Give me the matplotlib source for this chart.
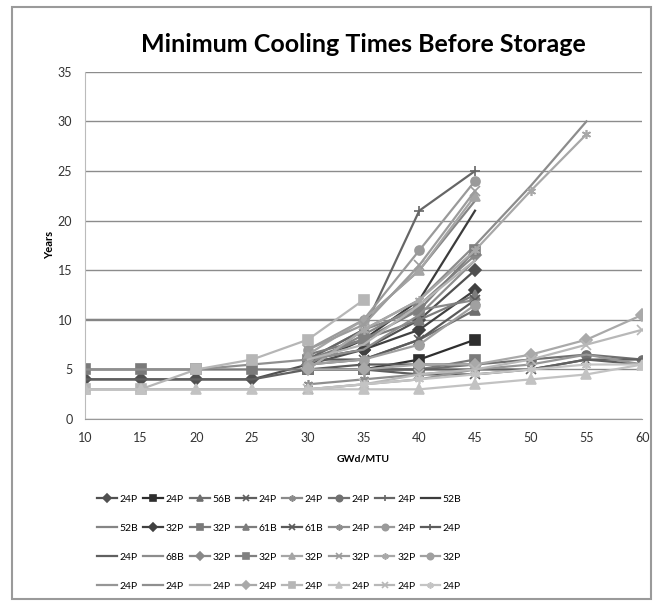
import numpy as np
import matplotlib.pyplot as plt
from matplotlib.patches import Rectangle

plt.rcParams['font.family'] = ['Lato', 'DejaVu Sans']

burnup = [10, 15, 20, 25, 30, 35, 40, 45, 50, 55, 60]

names = ['24P', '24P', '56B', '24P', '24P', '24P', '24P', '52B',
         '52B', '32P', '32P', '61B', '61B', '24P', '24P', '24P',
         '24P', '68B', '32P', '32P', '32P', '32P', '32P', '32P',
         '24P', '24P', '24P', '24P', '24P', '24P', '24P', '24P']

N = None
years = [
    [4, 4, 4, 4, 5.5, 7, 10, 15, N, N, N],
    [N, N, N, N, 5, 5, 6, 8, N, N, N],
    [N, N, N, N, 5.5, 6, 8, 11, N, N, N],
    [N, N, N, N, 5, 5, 4.5, 4.5, 5, 6, 5.5],
    [N, N, N, N, 6, 9, 11, 12, N, N, N],
    [N, N, N, N, 5, 5, 5, 5.5, 6, 6.5, 6],
    [N, N, N, N, 6, 9, 21, 25, N, N, N],
    [N, N, N, N, 5.5, 8, 12, 21, N, N, N],
    [10, 10, 10, 10, 10, 10, 15, 22, N, N, N],
    [N, N, N, N, 6, 7, 9, 13, N, N, N],
    [5, 5, 5, 5, 5, 5, 5, 6, N, N, N],
    [N, N, N, N, 6.5, 8, 10, 12.5, N, N, N],
    [N, N, N, N, 6, 6, 8, 12, N, N, N],
    [N, N, N, N, 3.5, 4, 4.5, 5, N, N, N],
    [N, N, N, N, 7, 10, 17, 24, N, N, N],
    [N, N, N, N, 5, 5.5, 5.5, 5.5, N, N, N],
    [4, 4, 4, 4, 5, 5, 5, 5, 5, 6, 6],
    [N, N, N, N, 5, 9, 12, 17.5, 23.5, 30, N],
    [N, N, N, N, 5.5, 8.5, 11.5, 16.5, N, N, N],
    [N, N, N, N, 6, 8, 11, 17, N, N, N],
    [N, N, N, N, 6.5, 10, 15, 22.5, N, N, N],
    [N, N, N, N, 7, 9.5, 15.5, 23, N, N, N],
    [N, N, N, N, 5, 9, 12, 17, 23, 28.7, N],
    [N, N, N, N, 5.5, 6, 7.5, 11.5, N, N, N],
    [3, 3, 3, 3, 3, 3.5, 4, 5, 5.5, 6.5, 5.5],
    [5, 5, 5, 5.5, 6, 7, 10.5, 16, N, N, N],
    [N, N, N, N, 6, 7.5, 11.5, 16, N, N, N],
    [N, N, N, N, 5, 5, 5.5, 5.5, 6.5, 8, 10.5],
    [3, 3, 5, 6, 8, 12, N, N, N, N, N],
    [3, 3, 3, 3, 3, 3, 3, 3.5, 4, 4.5, 5.5],
    [N, N, N, N, 3, 3.5, 4.5, 5, 6, 7.5, 9],
    [N, N, N, N, 3, 3.5, 4, 4.5, 5, 5.5, 5.5],
]

asterisk = (6, 2, 0)
markers = ['D', 's', '^', 'x', asterisk, 'o', '+', None,
           None, 'D', 's', '^', 'x', asterisk, 'o', '+',
           None, None, 'D', 's', '^', 'x', asterisk, 'o',
           None, None, None, 'D', 's', '^', 'x', asterisk]

grays = ['#505050', '#2e2e2e', '#6e6e6e', '#5e5e5e', '#8a8a8a', '#707070', '#666666', '#3c3c3c',
         '#858585', '#404040', '#7a7a7a', '#7c7c7c', '#5a5a5a', '#8e8e8e', '#9a9a9a', '#5c5c5c',
         '#606060', '#8c8c8c', '#888888', '#808080', '#a5a5a5', '#9c9c9c', '#a8a8a8', '#a0a0a0',
         '#969696', '#8f8f8f', '#b4b4b4', '#a9a9a9', '#b6b6b6', '#c2c2c2', '#b8b8b8', '#c4c4c4']

fig = plt.figure(figsize=(6.58, 6.03), dpi=100)
fig.patches.append(Rectangle((0.018, 0.007), 0.972, 0.981, transform=fig.transFigure,
                             fill=False, edgecolor='#9a9a9a', linewidth=1.5))
ax = fig.add_axes([0.129, 0.305, 0.847, 0.576])

handles = []
for name, vals, m, c in zip(names, years, markers, grays):
    y = np.array([np.nan if v is None else v for v in vals], dtype=float)
    h, = ax.plot(burnup, y, color=c, linewidth=1.6, marker=m, markersize=6.5,
                 markeredgewidth=1.2, markeredgecolor=c, label=name)
    handles.append(h)

ax.set_xlim(10, 60)
ax.set_ylim(0, 35)
ax.set_xticks(burnup)
ax.set_yticks(range(0, 36, 5))
ax.tick_params(axis='both', labelsize=9, colors='#333333', length=0, pad=9)
ax.grid(axis='y', color='#8c8c8c', linewidth=1)
ax.set_axisbelow(True)
for s in ['top', 'right']:
    ax.spines[s].set_visible(False)
ax.spines['left'].set_color('#bbbbbb')
ax.spines['bottom'].set_color('#999999')

ax.set_title('Minimum Cooling Times Before Storage', fontsize=18, fontweight='bold', pad=14)
ax.set_xlabel('GWd/MTU', fontsize=7.5, fontweight='bold', labelpad=8)
ax.set_ylabel('Years', fontsize=8, fontweight='bold', labelpad=2)

# legend is row-major in the original, matplotlib fills by column
order = [r * 8 + c for c in range(8) for r in range(4)]
ax.legend([handles[i] for i in order], [names[i] for i in order],
          ncol=8, loc='upper left', bbox_to_anchor=(0.005, -0.19), frameon=False,
          fontsize=7.5, handlelength=1.9, handletextpad=0.25, columnspacing=0.5,
          labelspacing=1.9, markerscale=0.7)

fig.savefig('out.png', dpi=100)
